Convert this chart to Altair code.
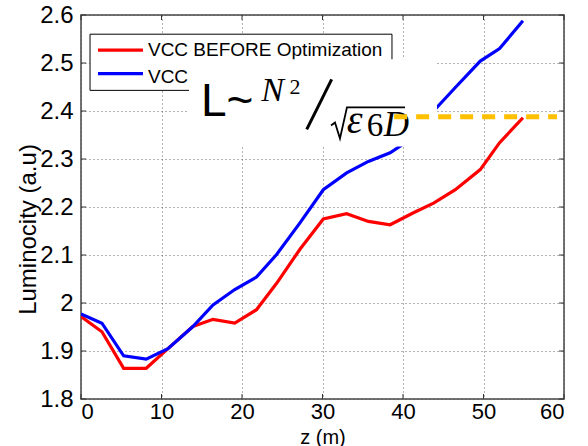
import altair as alt
import pandas as pd

# ---- data ----
z_vals = [0, 2.6, 5.3, 8.1, 10.8, 13.9, 16.4, 19.1, 21.8, 24.3, 27.2, 30.1, 33.0, 35.7, 38.4, 41.3, 43.8, 46.5, 49.6, 52.0, 54.9]
before_vals = [1.972, 1.940, 1.864, 1.864, 1.905, 1.951, 1.966, 1.958, 1.986, 2.041, 2.112, 2.175, 2.186, 2.170, 2.163, 2.188, 2.208, 2.236, 2.278, 2.334, 2.386]
vcc_vals = [1.977, 1.958, 1.890, 1.883, 1.905, 1.951, 1.996, 2.028, 2.054, 2.101, 2.167, 2.236, 2.271, 2.295, 2.313, 2.345, 2.400, 2.449, 2.504, 2.530, 2.588]
series_names = ["VCC BEFORE Optimization", "VCC"]
series_colors = ["#FF0000", "#0000FF"]
x_ticks = [0, 10, 20, 30, 40, 50, 60]
y_ticks = [1.8, 1.9, 2.0, 2.1, 2.2, 2.3, 2.4, 2.5, 2.6]
target_level = 2.388

X_DOM = [0, 60]
Y_DOM = [1.8, 2.6]
W, H = 483, 384

xs = alt.Scale(domain=X_DOM, nice=False, zero=False)
ys = alt.Scale(domain=Y_DOM, nice=False, zero=False)

red_df = pd.DataFrame({"z": z_vals, "L": before_vals})
blue_df = pd.DataFrame({"z": z_vals, "L": vcc_vals})

x_axis = alt.Axis(values=x_ticks, format="~g", title="z (m)", grid=True, ticks=False, domain=False,
                  labelFontSize=22, labelPadding=2, titleFontSize=20, titleY=44, titleBaseline="alphabetic",
                  labelColor="#000", titleColor="#000", titleFontWeight="normal")
y_axis = alt.Axis(values=y_ticks, format="~g", title="Luminocity (a.u)", grid=True, ticks=False, domain=False,
                  labelFontSize=24, labelPadding=8, titleFontSize=24, titleX=-53, titleY=214,
                  titleAngle=270, titleAlign="center", titleBaseline="middle",
                  labelColor="#000", titleColor="#000", titleFontWeight="normal")

red = alt.Chart(red_df).mark_line(color=series_colors[0], strokeWidth=3.2, clip=True).encode(
    x=alt.X("z:Q", scale=xs, axis=x_axis),
    y=alt.Y("L:Q", scale=ys, axis=y_axis),
)
blue = alt.Chart(blue_df).mark_line(color=series_colors[1], strokeWidth=3.2, clip=True).encode(
    x=alt.X("z:Q", scale=xs), y=alt.Y("L:Q", scale=ys))

# inward ticks (MATLAB box style)
tick_dx = 5 / (W / (X_DOM[1] - X_DOM[0]))
tick_dy = 5 / (H / (Y_DOM[1] - Y_DOM[0]))
xt_rows = []
for v in x_ticks:
    xt_rows.append({"x": v, "x2": v, "y": Y_DOM[0], "y2": Y_DOM[0] + tick_dy})
    xt_rows.append({"x": v, "x2": v, "y": Y_DOM[1], "y2": Y_DOM[1] - tick_dy})
for v in y_ticks:
    xt_rows.append({"x": X_DOM[0], "x2": X_DOM[0] + tick_dx, "y": v, "y2": v})
    xt_rows.append({"x": X_DOM[1], "x2": X_DOM[1] - tick_dx, "y": v, "y2": v})
ticks = alt.Chart(pd.DataFrame(xt_rows)).mark_rule(color="#333", strokeWidth=1).encode(
    x=alt.X("x:Q", scale=xs), x2="x2:Q", y=alt.Y("y:Q", scale=ys), y2="y2:Q")

# manual legend box
leg_box = alt.Chart(pd.DataFrame([{"x": 1.12, "x2": 38.63, "y": 2.443, "y2": 2.560}])).mark_rect(
    fill="white", stroke="#000", strokeWidth=1).encode(
    x=alt.X("x:Q", scale=xs), x2="x2:Q", y=alt.Y("y:Q", scale=ys), y2="y2:Q")
leg_lines = alt.Chart(pd.DataFrame([
    {"x": 2.11, "x2": 7.70, "y": 2.527, "s": series_names[0]},
    {"x": 2.11, "x2": 7.70, "y": 2.478, "s": series_names[1]},
])).mark_rule(strokeWidth=3.2).encode(
    x=alt.X("x:Q", scale=xs), x2="x2:Q", y=alt.Y("y:Q", scale=ys),
    color=alt.Color("s:N", scale=alt.Scale(domain=series_names, range=series_colors), legend=None))
leg_text = alt.Chart(pd.DataFrame([
    {"x": 8.32, "y": 2.5146, "t": series_names[0]},
    {"x": 8.32, "y": 2.459, "t": series_names[1]},
])).mark_text(align="left", baseline="alphabetic", fontSize=19, font="Liberation Sans", color="#000").encode(
    x=alt.X("x:Q", scale=xs), y=alt.Y("y:Q", scale=ys), text="t:N")

# formula white box
f_box = alt.Chart(pd.DataFrame([{"x": 13.42, "x2": 44.22, "y": 2.3261, "y2": 2.5077}])).mark_rect(
    fill="white").encode(x=alt.X("x:Q", scale=xs), x2="x2:Q", y=alt.Y("y:Q", scale=ys), y2="y2:Q")

f_L = alt.Chart(pd.DataFrame([{"x": 14.91, "y": 2.3887, "t": "L~"}])).mark_text(
    align="left", baseline="alphabetic", fontSize=46, font="Liberation Sans", color="#000").encode(
    x=alt.X("x:Q", scale=xs), y=alt.Y("y:Q", scale=ys), text="t:N")
f_it = alt.Chart(pd.DataFrame([
    {"x": 22.4, "y": 2.4200, "t": "N", "s": 34},
    {"x": 33.0, "y": 2.3532, "t": "ε", "s": 40},
    {"x": 37.6, "y": 2.3470, "t": "D", "s": 35},
])).mark_text(align="left", baseline="alphabetic", font="Liberation Serif", fontStyle="italic", color="#000").encode(
    x=alt.X("x:Q", scale=xs), y=alt.Y("y:Q", scale=ys), text="t:N",
    size=alt.Size("s:Q", scale=None, legend=None))
f_up = alt.Chart(pd.DataFrame([
    {"x": 25.9, "y": 2.4347, "t": "2", "s": 22},
    {"x": 35.5, "y": 2.3470, "t": "6", "s": 33},
])).mark_text(align="left", baseline="alphabetic", font="Liberation Serif", color="#000").encode(
    x=alt.X("x:Q", scale=xs), y=alt.Y("y:Q", scale=ys), text="t:N",
    size=alt.Size("s:Q", scale=None, legend=None))
slash = alt.Chart(pd.DataFrame([{"x": 31.14, "y": 2.466, "x2": 28.04, "y2": 2.3616}])).mark_rule(
    color="#000", strokeWidth=3).encode(x=alt.X("x:Q", scale=xs), x2="x2:Q", y=alt.Y("y:Q", scale=ys), y2="y2:Q")
radical = alt.Chart(pd.DataFrame({
    "x": [31.06, 31.55, 32.17, 33.04, 40.25],
    "y": [2.3699, 2.3762, 2.3428, 2.4075, 2.4075],
    "o": [0, 1, 2, 3, 4],
})).mark_line(color="#000", strokeWidth=1.8).encode(
    x=alt.X("x:Q", scale=xs), y=alt.Y("y:Q", scale=ys), order="o:Q")

dash = alt.Chart(pd.DataFrame([{"x": 38.9, "x2": 59.13, "y": target_level}])).mark_rule(
    color="#FFC000", strokeWidth=5, strokeDash=[13, 9]).encode(
    x=alt.X("x:Q", scale=xs), x2="x2:Q", y=alt.Y("y:Q", scale=ys))

chart = alt.layer(
    red, blue, ticks, leg_box, leg_lines, leg_text, f_box, f_L, f_it, f_up, slash, radical, dash
).properties(
    width=W, height=H,
    padding={"left": 81, "top": 15, "right": 24, "bottom": 47},
    autosize=alt.AutoSizeParams(type="none"),
    background="white",
).configure_view(stroke="#444", strokeWidth=1.5).configure_axis(
    gridColor="#555", gridDash=[1, 3], gridWidth=1, gridOpacity=0.9,
    labelFont="Liberation Sans", titleFont="Liberation Sans")

chart.save("out.html", embed_options={"renderer": "svg", "actions": False})
